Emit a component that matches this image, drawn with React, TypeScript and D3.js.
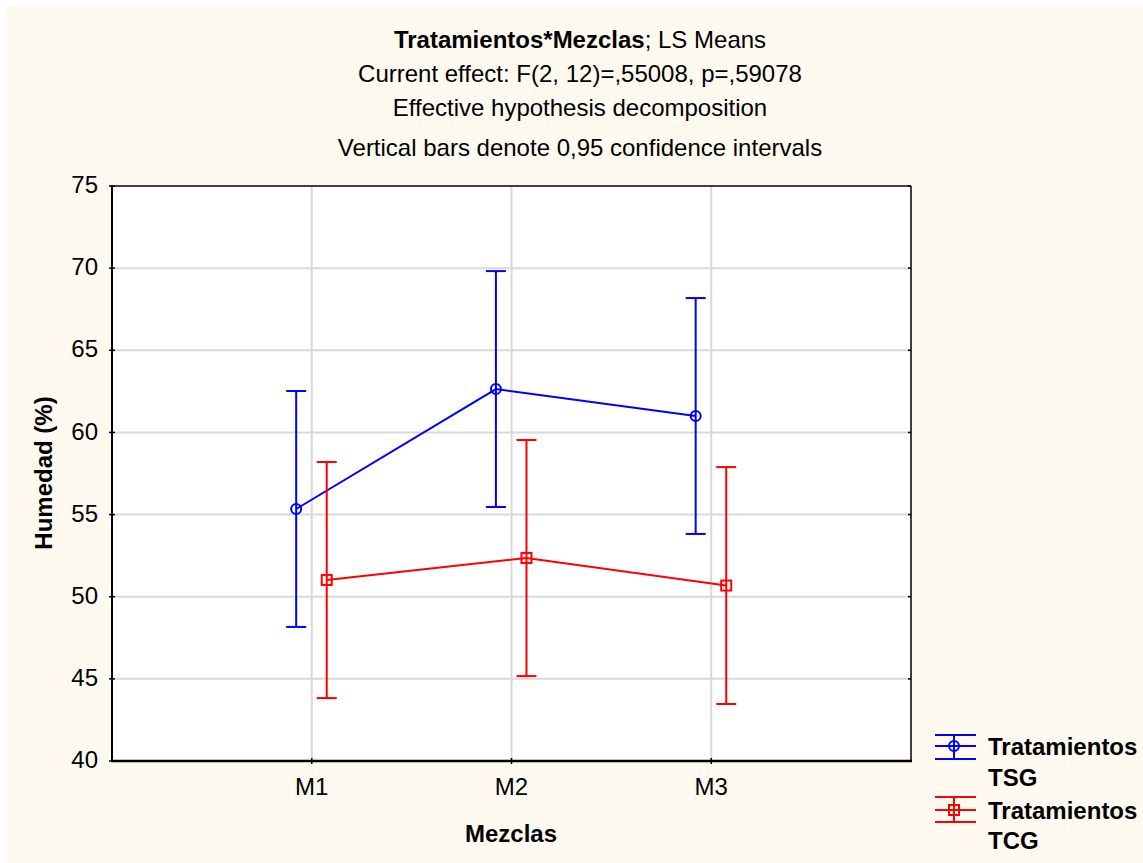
import React from "react";
import * as d3 from "d3";

const categories = ["M1", "M2", "M3"];
const seriesNames = ["Tratamientos TSG", "Tratamientos TCG"];
const tsgMean = [55.34, 62.64, 61.0];
const tsgLow = [48.16, 55.46, 53.82];
const tsgHigh = [62.52, 69.82, 68.18];
const tcgMean = [51.02, 52.36, 50.68];
const tcgLow = [43.83, 45.17, 43.47];
const tcgHigh = [58.2, 59.54, 57.89];
const yTicks = [40, 45, 50, 55, 60, 65, 70, 75];
const titleLines = [
  "Current effect: F(2, 12)=,55008, p=,59078",
  "Effective hypothesis decomposition",
  "Vertical bars denote 0,95 confidence intervals",
];

const W = 1143, H = 863;
const L = 112, R = 911, T = 186, B = 761;
const FONT = "'Liberation Sans', Arial, sans-serif";
const FS = 24;

export default function App() {
  const x = d3.scaleLinear().domain([0, 4]).range([L, R]);
  const y = d3.scaleLinear().domain([40, 75]).range([B, T]);
  const series = [
    { name: seriesNames[0], mean: tsgMean, low: tsgLow, high: tsgHigh, color: "#0000FF", off: -0.078, marker: "circle" },
    { name: seriesNames[1], mean: tcgMean, low: tcgLow, high: tcgHigh, color: "#FF0000", off: 0.075, marker: "square" },
  ];
  return (
    <svg width={W} height={H} style={{ position: "absolute", left: 0, top: 0 }} fontFamily={FONT}>
      <rect x={0} y={0} width={W} height={H} fill="#ffffff" />
      <rect x={6} y={6} width={W - 6} height={H - 6} fill="#FEFAF0" />
      <rect x={L} y={T} width={R - L} height={B - T} fill="#ffffff" />
      {yTicks.slice(1, -1).map((t) => (
        <line key={"gy" + t} x1={L} x2={R} y1={y(t)} y2={y(t)} stroke="#D9D9D9" strokeWidth={2} />
      ))}
      {categories.map((c, i) => (
        <line key={"gx" + c} x1={x(i + 1)} x2={x(i + 1)} y1={T} y2={B} stroke="#D9D9D9" strokeWidth={2} />
      ))}
      <line x1={L} x2={R} y1={T} y2={T} stroke="#000" strokeWidth={1.5} />
      <line x1={R} x2={R} y1={T} y2={B} stroke="#000" strokeWidth={1.5} />
      <line x1={L} x2={L} y1={T - 1} y2={B + 1} stroke="#000" strokeWidth={2} />
      <line x1={L - 1} x2={R + 1} y1={B} y2={B} stroke="#000" strokeWidth={2.5} />
      {yTicks.map((t) => (
        <g key={"ty" + t}>
          <line x1={L - 3} x2={L + 3} y1={y(t)} y2={y(t)} stroke="#000" strokeWidth={1.5} />
          <line x1={R - 3} x2={R} y1={y(t)} y2={y(t)} stroke="#000" strokeWidth={1.5} />
          <text x={98} y={y(t)} dy="0.3em" textAnchor="end" fontSize={FS} fill="#000">{t}</text>
        </g>
      ))}
      {categories.map((c, i) => (
        <g key={"tx" + c}>
          <line x1={x(i + 1)} x2={x(i + 1)} y1={B - 3} y2={B + 3} stroke="#000" strokeWidth={1.5} />
          <text x={x(i + 1)} y={795} textAnchor="middle" fontSize={FS} fill="#000">{c}</text>
        </g>
      ))}
      {series.map((s) => {
        const pts = s.mean.map((m, i) => [x(i + 1 + s.off), y(m)] as [number, number]);
        const path = d3.line()(pts) || "";
        return (
          <g key={s.name}>
            {s.mean.map((m, i) => {
              const cx = x(i + 1 + s.off);
              return (
                <g key={i}>
                  <line x1={cx} x2={cx} y1={y(s.low[i])} y2={y(s.high[i])} stroke={s.color} strokeWidth={2} />
                  <line x1={cx - 10} x2={cx + 10} y1={y(s.low[i])} y2={y(s.low[i])} stroke={s.color} strokeWidth={2} />
                  <line x1={cx - 10} x2={cx + 10} y1={y(s.high[i])} y2={y(s.high[i])} stroke={s.color} strokeWidth={2} />
                </g>
              );
            })}
            <path d={path} fill="none" stroke={s.color} strokeWidth={2} />
            {pts.map(([px, py], i) =>
              s.marker === "circle" ? (
                <circle key={"m" + i} cx={px} cy={py} r={5} fill="none" stroke={s.color} strokeWidth={2} />
              ) : (
                <rect key={"m" + i} x={px - 5} y={py - 5} width={10} height={10} fill="none" stroke={s.color} strokeWidth={2} />
              )
            )}
          </g>
        );
      })}
      <text x={580} y={48} textAnchor="middle" fontSize={FS} fill="#000">
        <tspan fontWeight="bold">Tratamientos*Mezclas</tspan>
        <tspan>; LS Means</tspan>
      </text>
      {titleLines.map((t, i) => (
        <text key={t} x={580} y={[82, 116, 156][i]} textAnchor="middle" fontSize={FS} fill="#000">{t}</text>
      ))}
      <text x={511} y={842} textAnchor="middle" fontSize={FS} fontWeight="bold" fill="#000">Mezclas</text>
      <text transform={`translate(52,473) rotate(-90)`} textAnchor="middle" fontSize={FS} fontWeight="bold" fill="#000">Humedad (%)</text>
      {series.map((s, k) => {
        const cy = [746, 810][k];
        const top = [735, 797][k];
        const bot = [759, 822][k];
        const words = s.name.split(" ");
        return (
          <g key={"lg" + k}>
            <line x1={935} x2={976} y1={top} y2={top} stroke={s.color} strokeWidth={2} />
            <line x1={935} x2={976} y1={cy} y2={cy} stroke={s.color} strokeWidth={2} />
            <line x1={935} x2={976} y1={bot} y2={bot} stroke={s.color} strokeWidth={2} />
            <line x1={954} x2={954} y1={top} y2={bot} stroke={s.color} strokeWidth={2} />
            {s.marker === "circle" ? (
              <circle cx={954} cy={cy} r={5} fill="none" stroke={s.color} strokeWidth={2} />
            ) : (
              <rect x={949} y={cy - 5} width={10} height={10} fill="none" stroke={s.color} strokeWidth={2} />
            )}
            <text x={988} y={[755, 819][k]} fontSize={FS} fontWeight="bold" fill="#000">{words[0]}</text>
            <text x={988} y={[786, 849][k]} fontSize={FS} fontWeight="bold" fill="#000">{words[1]}</text>
          </g>
        );
      })}
    </svg>
  );
}
